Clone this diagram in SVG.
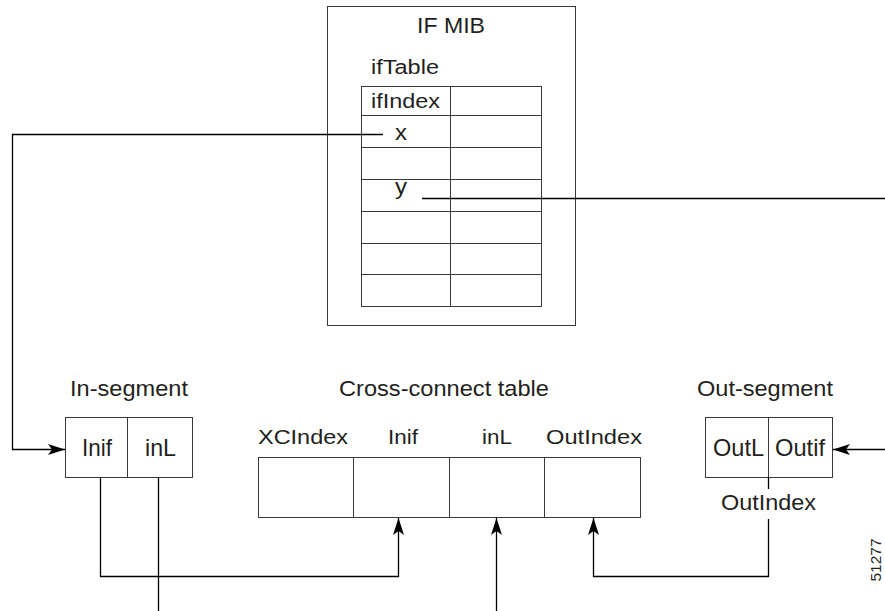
<svg xmlns="http://www.w3.org/2000/svg" width="885" height="611" viewBox="0 0 885 611">
<style>
  .t { font-family: "Liberation Sans", Arial, Helvetica, sans-serif; font-size: 21.5px; fill: #231f20; }
  .m { text-anchor: middle; }
  .s20 { font-size: 20px; }
  .s22 { font-size: 22.5px; }
  .s24 { font-size: 24.5px; }
  .box { fill: #ffffff; stroke: #3a3a3a; stroke-width: 1; }
  .grid { fill: none; stroke: #3a3a3a; stroke-width: 1; }
  .conn { fill: none; stroke: #000000; stroke-width: 1.3; }
</style>
<defs>
  <marker id="arr" markerUnits="userSpaceOnUse" markerWidth="18" markerHeight="14" refX="17" refY="6" orient="auto">
    <path d="M0,0.5 L17,6 L0,11.5 L4,6 Z" fill="#000000"/>
  </marker>
</defs>
<rect width="885" height="611" fill="#ffffff"/>

<g id="if-mib">
  <rect class="box" x="327.5" y="6.5" width="248" height="319"/>
  <text class="t s22 m" x="451" y="33" textLength="68" lengthAdjust="spacingAndGlyphs">IF MIB</text>
  <text class="t s20" x="371" y="74" textLength="68" lengthAdjust="spacingAndGlyphs">ifTable</text>
  <rect class="grid" x="361.5" y="86.5" width="180" height="220"/>
  <path class="grid" d="M450.5,86.5 V306.5 M361.5,115.5 H541.5 M361.5,147.5 H541.5 M361.5,179.5 H541.5 M361.5,211.5 H541.5 M361.5,243.5 H541.5 M361.5,274.5 H541.5"/>
  <text class="t s20" x="371" y="108" textLength="69" lengthAdjust="spacingAndGlyphs">ifIndex</text>
  <text class="t s22 m" x="401" y="140" textLength="12" lengthAdjust="spacingAndGlyphs">x</text>
  <text class="t s22 m" x="401" y="194" textLength="12" lengthAdjust="spacingAndGlyphs">y</text>
</g>

<g id="in-segment">
  <text class="t m" x="129" y="396" textLength="118" lengthAdjust="spacingAndGlyphs">In-segment</text>
  <rect class="box" x="65.5" y="417.5" width="127" height="60"/>
  <path class="grid" d="M127.5,417.5 V477.5"/>
  <text class="t s24 m" x="97" y="456" textLength="30" lengthAdjust="spacingAndGlyphs">Inif</text>
  <text class="t s24 m" x="160.5" y="456" textLength="31" lengthAdjust="spacingAndGlyphs">inL</text>
</g>

<g id="cross-connect">
  <text class="t m" x="444" y="396" textLength="210" lengthAdjust="spacingAndGlyphs">Cross-connect table</text>
  <text class="t s20 m" x="303" y="444" textLength="90" lengthAdjust="spacingAndGlyphs">XCIndex</text>
  <text class="t s20 m" x="403" y="444" textLength="30" lengthAdjust="spacingAndGlyphs">Inif</text>
  <text class="t s20 m" x="497" y="444" textLength="30" lengthAdjust="spacingAndGlyphs">inL</text>
  <text class="t s20 m" x="594" y="444" textLength="96" lengthAdjust="spacingAndGlyphs">OutIndex</text>
  <rect class="box" x="258.5" y="457.5" width="382" height="60"/>
  <path class="grid" d="M353.5,457.5 V517.5 M449.5,457.5 V517.5 M544.5,457.5 V517.5"/>
</g>

<g id="out-segment">
  <text class="t m" x="765" y="396" textLength="136" lengthAdjust="spacingAndGlyphs">Out-segment</text>
  <rect class="box" x="705.5" y="417.5" width="127" height="60"/>
  <path class="grid" d="M768.5,417.5 V477.5"/>
  <text class="t s24 m" x="738.5" y="456" textLength="51" lengthAdjust="spacingAndGlyphs">OutL</text>
  <text class="t s24 m" x="800" y="456" textLength="50" lengthAdjust="spacingAndGlyphs">Outif</text>
  <text class="t m" x="768.5" y="510" textLength="95" lengthAdjust="spacingAndGlyphs">OutIndex</text>
</g>

<g id="connectors">
  <path class="conn" d="M383,134.5 H12.5 V449.5 H65" marker-end="url(#arr)"/>
  <path class="conn" d="M422,198.5 H885"/>
  <path class="conn" d="M885,449.5 H833" marker-end="url(#arr)"/>
  <path class="conn" d="M100.5,477.5 V576.5 H398.5 V518" marker-end="url(#arr)"/>
  <path class="conn" d="M158.5,477.5 V611"/>
  <path class="conn" d="M496.5,611 V518" marker-end="url(#arr)"/>
  <path class="conn" d="M768.5,477.5 V489"/>
  <path class="conn" d="M768.5,519 V576.5 H593.5 V518" marker-end="url(#arr)"/>
</g>

<text class="t m" transform="translate(881,560) rotate(-90)" style="font-size:14px" textLength="43" lengthAdjust="spacingAndGlyphs">51277</text>
</svg>
